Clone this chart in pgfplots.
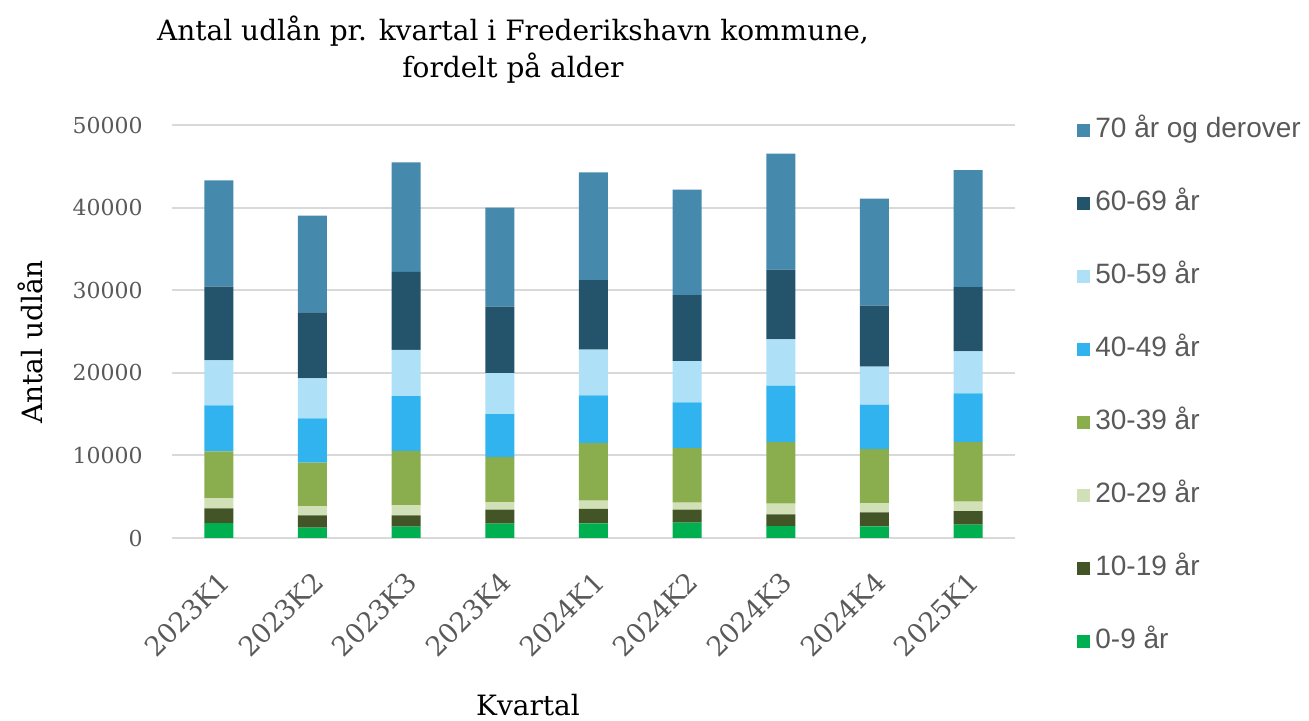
\documentclass[border=0pt]{standalone}
\usepackage{pgfplots}
\pgfplotsset{compat=1.18}
\usepackage{pgfplotstable}
\usepackage{fontspec}
\setmainfont{DejaVu Serif}
\newfontfamily\legfont{Liberation Sans}
\definecolor{c70}{HTML}{4589AD}
\definecolor{c60}{HTML}{24536C}
\definecolor{c50}{HTML}{AEE0F8}
\definecolor{c40}{HTML}{31B3F0}
\definecolor{c30}{HTML}{8AAE4D}
\definecolor{c20}{HTML}{D2E0B8}
\definecolor{c10}{HTML}{435527}
\definecolor{c00}{HTML}{00AF50}
\definecolor{gridgray}{HTML}{D9D9D9}
\definecolor{txtgray}{HTML}{595959}
\pgfplotstableread{
x a b c d e f g h
0 1810 1780 1210 5690 5560 5440 8950 12860
1 1250 1490 1090 5280 5360 4840 8020 11690
2 1370 1370 1210 6610 6610 5600 9440 13270
3 1730 1690 890 5480 5200 4960 8060 11980
4 1770 1770 970 6980 5770 5560 8390 13060
5 1860 1570 850 6610 5520 5000 7980 12780
6 1450 1410 1290 7460 6850 5600 8430 14030
7 1410 1690 1130 6530 5400 4600 7380 12940
8 1610 1650 1130 7220 5890 5080 7780 14190
}\data
\begin{document}
\begin{tikzpicture}
\begin{axis}[
  at={(0,0)}, anchor=south west,
  scale only axis, width=421.5pt, height=206.5pt,
  ybar stacked, bar width=14.5pt,
  xmin=-0.5, xmax=8.5, ymin=0, ymax=50000,
  xtick={0,...,8},
  xticklabels={2023K1,2023K2,2023K3,2023K4,2024K1,2024K2,2024K3,2024K4,2025K1},
  ytick={0,10000,...,50000},
  scaled y ticks=false,
  axis line style={draw=none},
  major tick length=0pt,
  ymajorgrids, grid style={color=gridgray, line width=1pt},
  tick label style={color=txtgray},
  yticklabel style={font=\fontsize{11}{13}\selectfont, /pgf/number format/1000 sep={}, /pgf/number format/assume math mode=true, inner sep=0pt, xshift=-14.5pt},
  xticklabel style={font=\fontsize{13.5}{15}\selectfont, rotate=45, anchor=north east, inner sep=1pt, xshift=-10.5pt, yshift=-9.5pt},
  reverse legend,
  every axis plot/.append style={draw=none, legend image code/.code={\fill[##1] (0pt,-3.25pt) rectangle (6.5pt,3.25pt);}},
  legend cell align=left,
  legend style={at={(1.0735,1.02)}, anchor=north west, draw=none, fill=none, inner sep=0pt,
    font=\legfont\fontsize{14}{16}\selectfont, text=txtgray,
    nodes={inner sep=0pt, text height=10pt, text depth=3pt},
    row sep=23.5pt, column sep=2.5pt},
]
\addplot[fill=c00] table[x=x,y=a]{\data};
\addplot[fill=c10] table[x=x,y=b]{\data};
\addplot[fill=c20] table[x=x,y=c]{\data};
\addplot[fill=c30] table[x=x,y=d]{\data};
\addplot[fill=c40] table[x=x,y=e]{\data};
\addplot[fill=c50] table[x=x,y=f]{\data};
\addplot[fill=c60] table[x=x,y=g]{\data};
\addplot[fill=c70] table[x=x,y=h]{\data};
\legend{0-9 år,10-19 år,20-29 år,30-39 år,40-49 år,50-59 år,60-69 år,70 år og derover}
\end{axis}
\node[align=center, font=\fontsize{14}{18.5}\selectfont] at (170.5pt,244pt) {Antal udlån pr. kvartal i Frederikshavn kommune,\\fordelt på alder};
\node[rotate=90, font=\fontsize{14}{16}\selectfont] at (-71pt,98pt) {Antal udlån};
\node[font=\fontsize{14}{16}\selectfont] at (178pt,-83.5pt) {Kvartal};
\pgfresetboundingbox
\path (-86pt,-91.5pt) rectangle (568.5pt,269pt);
\end{tikzpicture}
\end{document}
